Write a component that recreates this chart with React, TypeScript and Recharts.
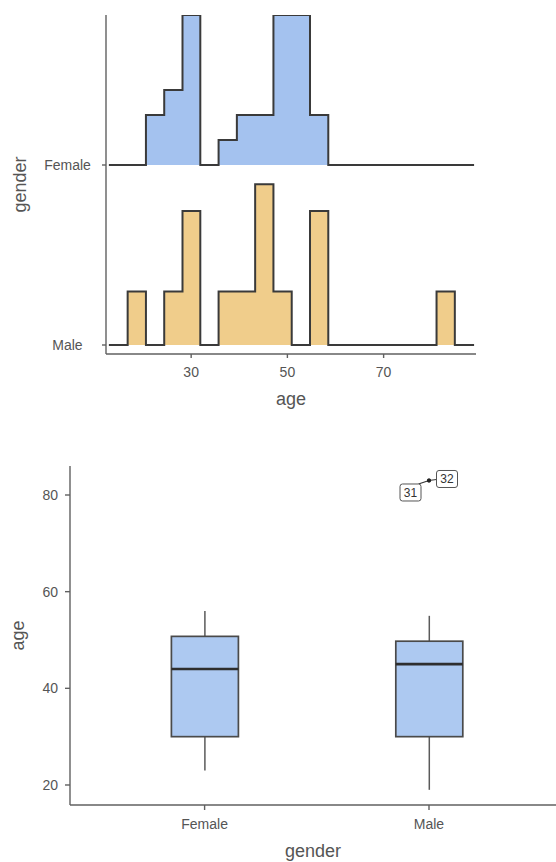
import React from 'react';
import { ComposedChart, Area, Bar, Scatter, XAxis, YAxis, Label } from 'recharts';

// ---------- Ridgeline histogram data (top panel) ----------
const binStarts = [12.9, 16.8, 20.6, 24.4, 28.2, 31.9, 35.7, 39.5, 43.3, 47.1, 50.9, 54.7, 58.5, 81.0, 84.8, 88.8];
const femaleCounts = [0, 0, 2, 3, 6, 0, 1, 2, 2, 6, 6, 2, 0, 0, 0, 0];
const maleCounts = [0, 2, 0, 2, 5, 0, 2, 2, 6, 2, 0, 5, 0, 2, 0, 0];
const femaleN = 30;
const maleN = 28;
const ridgeGenders = ['Male', 'Female'];
const ridgeOffsets = [0, 0.24];
const ageTicks = [30, 50, 70];

// ---------- Boxplot data (bottom panel) ----------
const genders = ['Female', 'Male'];
const whiskerLow = [23, 19];
const quartile1 = [30, 30];
const medians = [44, 45];
const quartile3 = [50.75, 49.75];
const whiskerHigh = [56, 55];
const outlierAges = [83, 83];
const outlierIds = ['31', '32'];
const outlierGender = 'Male';
const boxAgeTicks = [20, 40, 60, 80];

const FONT = '"Liberation Sans", Arial, Helvetica, sans-serif';
const TICK_COLOR = '#555555';
const TITLE_COLOR = '#555555';
const AXIS_COLOR = '#606060';
const OUTLINE = '#3a3a3a';
const FEMALE_FILL = '#a4c2ef';
const MALE_FILL = '#f0cd8b';
const BOX_FILL = '#adc9f1';

const ridgeRows = binStarts.map((age, i) => ({
  age,
  female: ridgeOffsets[1] + femaleCounts[i] / femaleN,
  male: ridgeOffsets[0] + maleCounts[i] / maleN,
}));

const boxRows = genders.map((g, i) => {
  const row: any = {
    gender: g,
    box: [quartile1[i], quartile3[i]],
    lo: whiskerLow[i],
    med: medians[i],
    hi: whiskerHigh[i],
  };
  if (g === outlierGender) {
    row.out1 = outlierAges[0];
    row.out2 = outlierAges[1];
  }
  return row;
});

const xTitle = (text: string, offset: number) => (props: any) => {
  const vb = props.viewBox;
  return (
    <text x={vb.x + vb.width / 2} y={vb.y + vb.height - offset} textAnchor="middle"
      fontFamily={FONT} fontSize={18} fill={TITLE_COLOR}>{text}</text>
  );
};

const yTitle = (text: string, baseX: number) => (props: any) => {
  const vb = props.viewBox;
  const x = vb.x + baseX;
  const y = vb.y + vb.height / 2;
  return (
    <text x={x} y={y} transform={`rotate(-90 ${x} ${y})`} textAnchor="middle"
      fontFamily={FONT} fontSize={18} fill={TITLE_COLOR}>{text}</text>
  );
};

const RidgeTick = (props: any) => {
  const { x, y, payload } = props;
  const idx = ridgeOffsets.indexOf(payload.value);
  return (
    <text x={x} y={y} dy="0.36em" textAnchor="middle" fontFamily={FONT} fontSize={14} fill={TICK_COLOR}>
      {ridgeGenders[idx]}
    </text>
  );
};

const BoxShape = (props: any) => {
  const { x, y, width, height, payload } = props;
  const top = Math.min(y, y + height);
  const h = Math.abs(height);
  const [q1, q3] = payload.box;
  const ppu = h / (q3 - q1);
  const yOf = (v: number) => top + (q3 - v) * ppu;
  const cx = x + width / 2;
  return (
    <g>
      <line x1={cx} x2={cx} y1={yOf(payload.hi)} y2={top} stroke="#5a5a5a" strokeWidth={1.5} />
      <line x1={cx} x2={cx} y1={top + h} y2={yOf(payload.lo)} stroke="#5a5a5a" strokeWidth={1.5} />
      <rect x={x} y={top} width={width} height={h} fill={BOX_FILL} stroke="#4a4a4a" strokeWidth={1.7} />
      <line x1={x} x2={x + width} y1={yOf(payload.med)} y2={yOf(payload.med)} stroke="#2e2e2e" strokeWidth={2.6} />
    </g>
  );
};

// repel-label layout offsets (relative to the point)
const labelBoxes = [
  { dx: -29, dy: 3.5, w: 21, h: 17, lx: -10.5, ly: 3.5 },
  { dx: 7.5, dy: -10, w: 21, h: 17, lx: 7.5, ly: -1 },
];

const makeOutlierShape = (k: number) => (props: any) => {
  const { cx, cy } = props;
  if (cx == null || cy == null) return <g />;
  const b = labelBoxes[k];
  return (
    <g>
      <line x1={cx + b.lx} y1={cy + b.ly} x2={cx} y2={cy} stroke="#333" strokeWidth={1.2} />
      <circle cx={cx} cy={cy} r={2} fill="#222" />
      <rect x={cx + b.dx} y={cy + b.dy} width={b.w} height={b.h} rx={2.5} ry={2.5}
        fill="#ffffff" stroke="#555" strokeWidth={1} />
      <text x={cx + b.dx + b.w / 2} y={cy + b.dy + b.h / 2} dy="0.36em" textAnchor="middle"
        fontFamily={FONT} fontSize={12} fill="#333">{outlierIds[k]}</text>
    </g>
  );
};

export default function App() {
  return (
    <div style={{ position: 'fixed', left: 0, top: 0, width: 556, height: 862, background: '#fff' }}>
      <div style={{ position: 'absolute', left: 0, top: 0 }}>
        <ComposedChart width={556} height={420} data={ridgeRows}
          margin={{ top: 15, right: 80, bottom: 10, left: 0 }}>
          <XAxis type="number" dataKey="age" domain={[12.3, 89.2]} ticks={ageTicks} allowDataOverflow
            height={56} tickSize={4} tickMargin={9}
            axisLine={{ stroke: AXIS_COLOR, strokeWidth: 1.4 }} tickLine={{ stroke: AXIS_COLOR, strokeWidth: 1.4 }}
            tick={{ fill: TICK_COLOR, fontSize: 14, fontFamily: FONT }}>
            <Label content={xTitle('age', 5)} />
          </XAxis>
          <YAxis type="number" domain={[-0.012, 0.44]} ticks={ridgeOffsets} allowDataOverflow
            width={106} tickSize={4} tickMargin={34.5}
            axisLine={{ stroke: AXIS_COLOR, strokeWidth: 1.4 }} tickLine={{ stroke: AXIS_COLOR, strokeWidth: 1.4 }}
            tick={<RidgeTick />}>
            <Label content={yTitle('gender', 25.5)} />
          </YAxis>
          <Area type="stepAfter" dataKey="female" baseValue={ridgeOffsets[1]} fill={FEMALE_FILL} fillOpacity={1}
            stroke={OUTLINE} strokeWidth={2} dot={false} activeDot={false} isAnimationActive={false} />
          <Area type="stepAfter" dataKey="male" baseValue={ridgeOffsets[0]} fill={MALE_FILL} fillOpacity={1}
            stroke={OUTLINE} strokeWidth={2} dot={false} activeDot={false} isAnimationActive={false} />
        </ComposedChart>
      </div>
      <div style={{ position: 'absolute', left: 0, top: 430 }}>
        <ComposedChart width={556} height={432} data={boxRows}
          margin={{ top: 36, right: 0, bottom: 4, left: 0 }}>
          <XAxis type="category" dataKey="gender" padding={{ left: 22.4, right: 14.8 }}
            height={53} tickSize={5} tickMargin={9}
            axisLine={{ stroke: AXIS_COLOR, strokeWidth: 1.4 }} tickLine={{ stroke: AXIS_COLOR, strokeWidth: 1.4 }}
            tick={{ fill: TICK_COLOR, fontSize: 14, fontFamily: FONT }}>
            <Label content={xTitle('gender', 1)} />
          </XAxis>
          <YAxis type="number" domain={[15.86, 86.0]} ticks={boxAgeTicks} allowDataOverflow
            width={70} tickSize={5} tickMargin={7}
            axisLine={{ stroke: AXIS_COLOR, strokeWidth: 1.4 }} tickLine={{ stroke: AXIS_COLOR, strokeWidth: 1.4 }}
            tick={{ fill: TICK_COLOR, fontSize: 14, fontFamily: FONT }}>
            <Label content={yTitle('age', 23.6)} />
          </YAxis>
          <Bar dataKey="box" barSize={67} shape={BoxShape} isAnimationActive={false} />
          <Scatter dataKey="out1" shape={makeOutlierShape(0)} isAnimationActive={false} />
          <Scatter dataKey="out2" shape={makeOutlierShape(1)} isAnimationActive={false} />
        </ComposedChart>
      </div>
    </div>
  );
}
